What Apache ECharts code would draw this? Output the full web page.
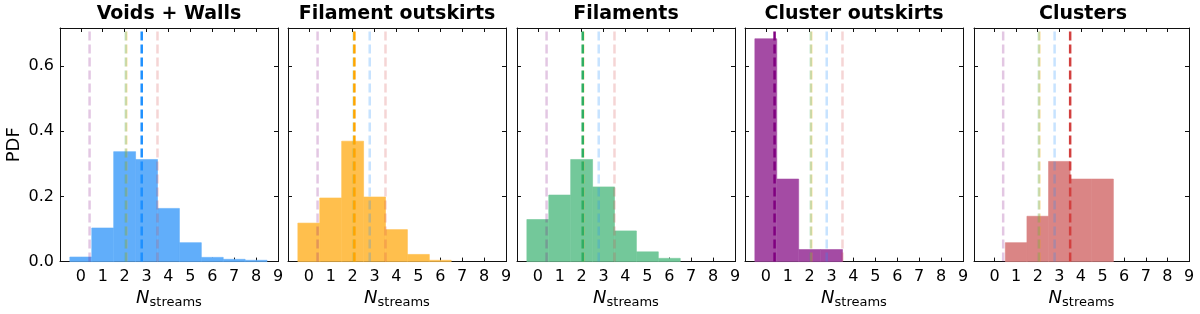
<!DOCTYPE html>
<html>
<head>
<meta charset="utf-8">
<script src="https://cdn.jsdelivr.net/npm/echarts@6/dist/echarts.min.js"></script>
<style>
html,body{margin:0;padding:0;background:#fff;}
#chart{width:1200px;height:314px;}
</style>
</head>
<body>
<div id="chart"></div>
<script>
// ---- data ----
const panelTitles = ['Voids + Walls', 'Filament outskirts', 'Filaments', 'Cluster outskirts', 'Clusters'];
const nStreams = [0, 1, 2, 3, 4, 5, 6, 7, 8];
const pdfVoidsWalls = [0.014, 0.103, 0.337, 0.313, 0.163, 0.058, 0.013, 0.007, 0.004];
const pdfFilamentOutskirts = [0.118, 0.195, 0.369, 0.198, 0.098, 0.022, 0.004, 0, 0];
const pdfFilaments = [0.129, 0.204, 0.313, 0.229, 0.094, 0.030, 0.010, 0, 0];
const pdfClusterOutskirts = [0.683, 0.253, 0.037, 0.037, 0, 0, 0, 0, 0];
const pdfClusters = [0, 0.058, 0.139, 0.307, 0.253, 0.253, 0, 0, 0];
const meanNStreams = [2.78, 2.08, 2.05, 0.40, 3.50];
const xTickLabels = [0, 1, 2, 3, 4, 5, 6, 7, 8, 9];
const yTickLabels = [0, 0.2, 0.4, 0.6];

// ---- styling ----
const pdfs = [pdfVoidsWalls, pdfFilamentOutskirts, pdfFilaments, pdfClusterOutskirts, pdfClusters];
const lineColors = ['#1E90FF', '#FFA500', '#2FAE63', '#800080', '#D2403F'];
const lightColors = ['rgba(30,144,255,0.25)', 'rgba(255,165,0,0.28)', 'rgba(47,174,99,0.25)', 'rgba(128,0,128,0.22)', 'rgba(210,64,63,0.22)'];
const barColors = ['#61AEFA', '#FFBF4D', '#73C89A', '#A44BA4', '#DA8585'];
const FONT = 'DejaVu Sans';
const gridLefts = [60, 288, 517, 745, 974];
const gridW = 218, gridTop = 28, gridH = 235;
const XMIN = -0.95, XMAX = 9, YMAX = 0.716;

const grids = [], xAxes = [], yAxes = [], series = [], graphics = [];
const line = {show: true, onZero: false, lineStyle: {color: '#111', width: 1}};
const tick = {show: true, inside: true, length: 4, lineStyle: {color: '#111', width: 1}};
for (let p = 0; p < 5; p++) {
  grids.push({left: gridLefts[p], top: gridTop, width: gridW, height: gridH});
  xAxes.push({type: 'value', gridIndex: p, min: XMIN, max: XMAX, position: 'bottom',
    axisLine: line, splitLine: {show: false},
    axisTick: Object.assign({customValues: xTickLabels}, tick),
    axisLabel: {customValues: xTickLabels, color: '#000', fontFamily: FONT, fontSize: 16, margin: 7},
    name: '{i|N}{s|streams}', nameLocation: 'middle', nameGap: 22,
    nameTextStyle: {rich: {i: {fontFamily: FONT, fontStyle: 'italic', fontSize: 18, color: '#000'},
      s: {fontFamily: FONT, fontSize: 13, color: '#000', verticalAlign: 'bottom', padding: [8, 0, 0, 0]}}}
  });
  xAxes.push({type: 'value', gridIndex: p, min: XMIN, max: XMAX, position: 'top',
    axisLine: line, splitLine: {show: false},
    axisTick: Object.assign({customValues: xTickLabels}, tick),
    axisLabel: {show: true, customValues: xTickLabels, formatter: () => ''}});
  yAxes.push({type: 'value', gridIndex: p, min: 0, max: YMAX, position: 'left',
    axisLine: line, splitLine: {show: false},
    axisTick: Object.assign({customValues: yTickLabels}, tick),
    axisLabel: {show: true, customValues: yTickLabels, color: '#000', fontFamily: FONT, fontSize: 16, margin: 6,
      formatter: v => (p === 0 ? v.toFixed(1) : '')},
    name: p === 0 ? 'PDF' : '', nameLocation: 'middle', nameGap: 37, nameRotate: 90,
    nameTextStyle: {fontFamily: FONT, fontSize: 18, color: '#000'}
  });
  yAxes.push({type: 'value', gridIndex: p, min: 0, max: YMAX, position: 'right',
    axisLine: line, splitLine: {show: false},
    axisTick: Object.assign({customValues: yTickLabels}, tick),
    axisLabel: {show: true, customValues: yTickLabels, formatter: () => ''}});

  const data = nStreams.map((n, i) => [n, pdfs[p][i]]).filter(d => d[1] > 0);
  const col = barColors[p];
  series.push({type: 'custom', xAxisIndex: 2 * p, yAxisIndex: 2 * p, z: 2, silent: true,
    data: data,
    renderItem: function (params, api) {
      const x = api.value(0), y = api.value(1);
      const a = api.coord([x - 0.5, y]);
      const b = api.coord([x + 0.5, 0]);
      return {type: 'rect', shape: {x: a[0], y: a[1], width: b[0] - a[0], height: b[1] - a[1]},
        style: {fill: col, stroke: col, lineWidth: 0.6}};
    }
  });
  for (let m = 0; m < 5; m++) {
    const own = m === p;
    series.push({type: 'line', xAxisIndex: 2 * p, yAxisIndex: 2 * p, z: own ? 5 : 4, silent: true,
      symbol: 'none', animation: false,
      data: [[meanNStreams[m], 0], [meanNStreams[m], YMAX]],
      lineStyle: {color: own ? lineColors[m] : lightColors[m], width: 2.5, type: [9, 4]}
    });
  }
  graphics.push({type: 'text', x: gridLefts[p] + gridW / 2, y: 14,
    style: {text: panelTitles[p], font: 'bold 19px "DejaVu Sans"', fill: '#000',
      textAlign: 'center', textVerticalAlign: 'middle'}});
}

const chart = echarts.init(document.getElementById('chart'), null, {renderer: 'canvas'});
chart.setOption({
  animation: false,
  backgroundColor: '#fff',
  grid: grids, xAxis: xAxes, yAxis: yAxes, series: series,
  graphic: graphics
});
</script>
</body>
</html>
